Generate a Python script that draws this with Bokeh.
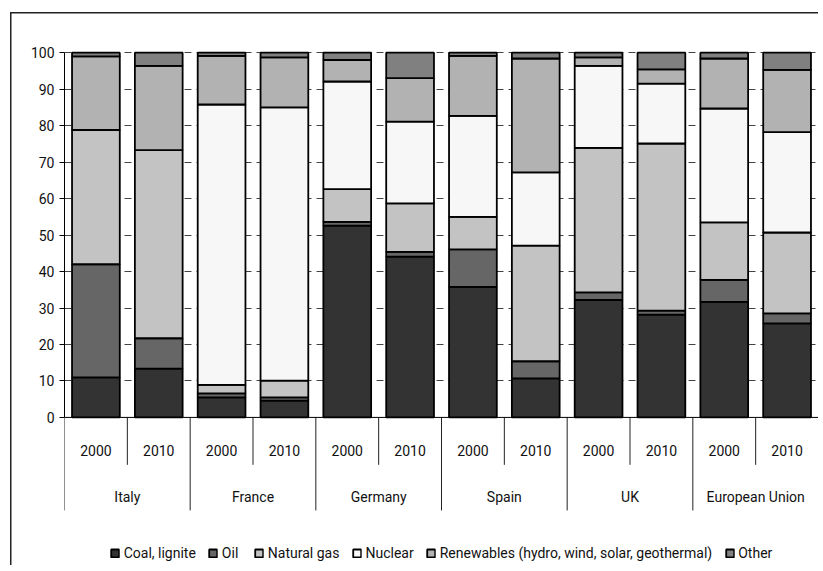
from bokeh.plotting import figure
from bokeh.models import (ColumnDataSource, FactorRange, Range1d, FixedTicker, Span)
from bokeh.embed import file_html
from bokeh.resources import INLINE
from bokeh.core.properties import value

countries = ["Italy", "France", "Germany", "Spain", "UK", "European Union"]
years = ["2000", "2010"]
series = ["Coal, lignite", "Oil", "Natural gas", "Nuclear",
          "Renewables (hydro, wind, solar, geothermal)", "Other"]

# shares (%) in order: Italy 2000, Italy 2010, France 2000, ... EU 2010
coal =       [11.0, 13.4, 5.5, 4.6, 52.6, 44.1, 35.8, 10.7, 32.2, 28.2, 31.7, 25.8]
oil =        [31.0, 8.3, 1.1, 0.9, 1.0, 1.3, 10.3, 4.7, 2.1, 1.1, 6.0, 2.7]
gas =        [36.8, 51.6, 2.3, 4.6, 9.0, 13.3, 8.9, 31.7, 39.6, 45.8, 15.8, 22.2]
nuclear =    [0.0, 0.0, 76.9, 74.9, 29.5, 22.4, 27.7, 20.1, 22.5, 16.4, 31.2, 27.5]
renewables = [20.2, 23.1, 13.3, 13.7, 5.9, 11.9, 16.4, 31.2, 2.3, 3.9, 13.7, 17.1]
other =      [1.0, 3.6, 0.9, 1.3, 2.0, 7.0, 0.9, 1.6, 1.3, 4.6, 1.6, 4.7]

y_ticks = [0, 10, 20, 30, 40, 50, 60, 70, 80, 90, 100]

colors = ["#333333", "#666666", "#c3c3c3", "#f7f7f7", "#b2b2b2", "#808080"]
FONT = "Roboto"
FSIZE = "14px"

factors = [(c, y) for c in countries for y in years]
keys = ["coal", "oil", "gas", "nuclear", "renewables", "other"]
src = ColumnDataSource(dict(x=factors, coal=coal, oil=oil, gas=gas,
                            nuclear=nuclear, renewables=renewables, other=other))

xr = FactorRange(*factors, factor_padding=0, group_padding=0,
                 subgroup_padding=0, range_padding=0)

p = figure(x_range=xr, y_range=Range1d(-40.6, 100.6), width=818, height=565,
           output_backend="svg", toolbar_location=None,
           min_border_left=64, min_border_right=0, min_border_top=50,
           min_border_bottom=0)
p.border_fill_color = None
p.outline_line_color = None
p.styles = {"box-shadow": "inset 10px 12px 0 0 #ffffff, inset 11.5px 13.5px 0 0 #222222"}

p.vbar_stack(keys, x="x", width=0.76, source=src, color=colors,
             line_color="black", line_width=1.8, legend_label=series)

# axes
p.xaxis.visible = False
p.xgrid.visible = False
ya = p.yaxis[0]
ya.bounds = (0, 100)
ya.ticker = FixedTicker(ticks=y_ticks)
ya.minor_tick_line_color = None
ya.major_tick_out = 5
ya.major_tick_in = 0
ya.major_label_standoff = 5
ya.axis_line_color = "black"
ya.major_tick_line_color = "black"
ya.major_label_text_font = FONT
ya.major_label_text_font_size = FSIZE
ya.major_label_text_color = "#111111"

p.ygrid.ticker = FixedTicker(ticks=y_ticks[1:])
p.ygrid.grid_line_color = "#444444"
p.ygrid.grid_line_dash = "7 5"
p.ygrid.grid_line_width = 1

p.add_layout(Span(location=0, dimension="width", line_color="black", line_width=1))

# category labels
p.text(x=factors, y=[-9.1] * len(factors), text=[f[1] for f in factors],
       text_font=value(FONT), text_font_size=FSIZE, text_color="#111111",
       text_align="center", text_baseline="middle")
p.text(x=countries, y=[-21.8] * len(countries), text=countries,
       text_font=value(FONT), text_font_size=FSIZE, text_color="#111111",
       text_align="center", text_baseline="middle")

# separators
short_x = [(c, "2000", 0.5) for c in countries]
long_x = [(countries[0], "2000", -0.5)] + [(c, "2010", 0.5) for c in countries]
p.segment(x0=short_x, y0=[0] * len(short_x), x1=short_x, y1=[-13.0] * len(short_x),
          line_color="#222222", line_width=1)
p.segment(x0=long_x, y0=[0] * len(long_x), x1=long_x, y1=[-25.5] * len(long_x),
          line_color="#222222", line_width=1)

lg = p.legend[0]
lg.orientation = "horizontal"
lg.location = "bottom_center"
lg.border_line_color = None
lg.background_fill_alpha = 0
lg.padding = 0
lg.margin = 4
lg.spacing = 12
lg.glyph_width = 10
lg.glyph_height = 10
lg.label_standoff = 4
lg.label_height = 14
lg.label_text_font = FONT
lg.label_text_font_size = FSIZE
lg.label_text_color = "#111111"

open("out.html", "w").write(file_html(p, INLINE))
